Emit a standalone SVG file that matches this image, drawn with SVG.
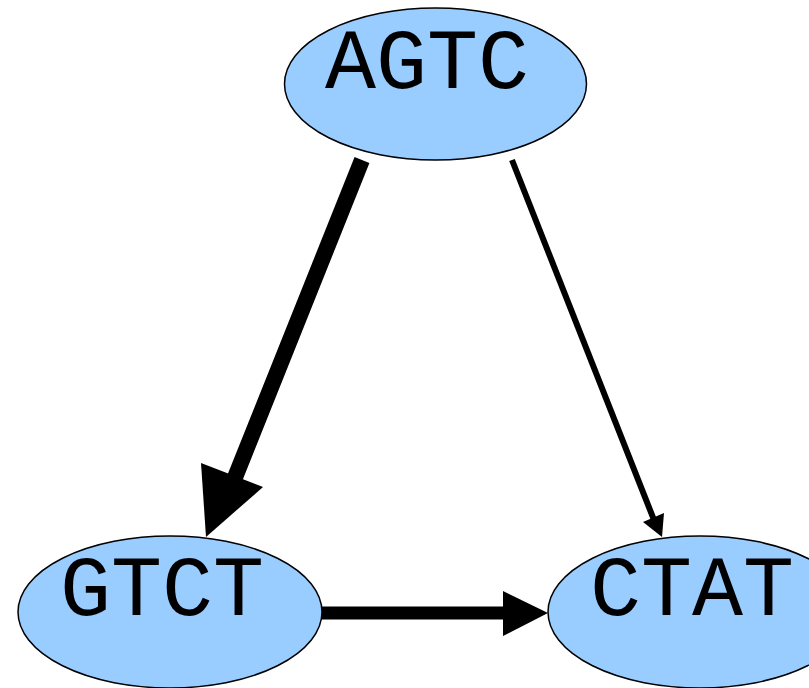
<svg xmlns="http://www.w3.org/2000/svg" width="809" height="688" viewBox="0 0 809 688">
<style>
.node ellipse{fill:#99ccff;stroke:#000;stroke-width:1.5}
.node text{font-family:"Courier New",Courier,"Nimbus Mono PS","FreeMono","Liberation Mono",monospace;font-size:85px;fill:#000;text-anchor:middle}
.edges line{stroke:#000;fill:none}
.edges polygon{fill:#000;stroke:none}
</style>
<rect width="809" height="688" fill="#fff"/>
<g class="edges" id="edges">
<line x1="362" y1="160" x2="234" y2="480" stroke-width="16"/>
<polygon points="206,537 201,463 263,487"/>
<line x1="512" y1="160" x2="654" y2="520" stroke-width="6"/>
<polygon points="662,537 643,522 664,513"/>
<line x1="322" y1="613" x2="506" y2="613" stroke-width="13"/>
<polygon points="548,613 503,591 503,636"/>
</g>
<g class="node" id="AGTC">
<ellipse cx="435.5" cy="84" rx="151" ry="76"/>
<text x="427" y="88">AGTC</text>
</g>
<g class="node" id="GTCT">
<ellipse cx="170" cy="612" rx="152" ry="76"/>
<text x="162" y="615">GTCT</text>
</g>
<g class="node" id="CTAT">
<ellipse cx="700" cy="612" rx="152" ry="76"/>
<text x="692" y="615">CTAT</text>
</g>
</svg>
